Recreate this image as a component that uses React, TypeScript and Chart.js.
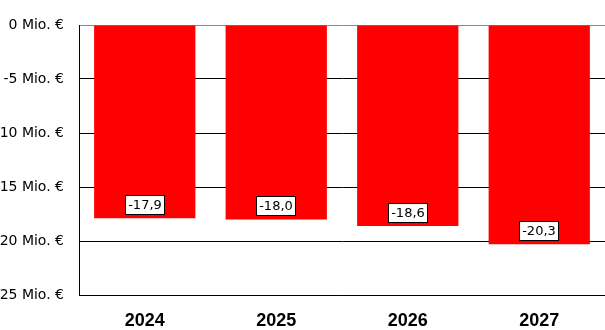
import React, { useEffect, useRef } from "react";
import { Chart, registerables } from "chart.js";

Chart.register(...registerables);

const categories = ["2024", "2025", "2026", "2027"];
const values = [-17.9, -18.0, -18.6, -20.3];
const yTicks = [0, -5, -10, -15, -20, -25];

const fmt = (v: number) => v.toFixed(1).replace(".", ",");

const labelPlugin = {
  id: "boxLabels",
  afterDatasetsDraw(chart: any) {
    const ctx = chart.ctx;
    const meta = chart.getDatasetMeta(0);
    ctx.save();
    ctx.font = "13px 'DejaVu Sans'";
    ctx.textAlign = "center";
    ctx.textBaseline = "middle";
    meta.data.forEach((bar: any, i: number) => {
      const text = fmt(values[i]);
      const w = Math.round(ctx.measureText(text).width + 6);
      const h = 20;
      const cx = Math.round(bar.x);
      const bottom = Math.round(bar.y) - 3;
      const x = Math.round(cx - w / 2);
      const y = bottom - h;
      ctx.fillStyle = "#ffffff";
      ctx.fillRect(x, y, w, h);
      ctx.strokeStyle = "#000000";
      ctx.lineWidth = 1;
      ctx.strokeRect(x + 0.5, y + 0.5, w - 1, h - 1);
      ctx.fillStyle = "#000000";
      ctx.fillText(text, cx, y + h / 2 + 0.5);
    });
    ctx.restore();
  },
};

export default function App() {
  const ref = useRef<HTMLCanvasElement>(null);
  useEffect(() => {
    if (!ref.current) return;
    const chart = new Chart(ref.current, {
      type: "bar",
      data: {
        labels: categories,
        datasets: [
          {
            data: values,
            backgroundColor: "#ff0000",
            borderWidth: 0,
            categoryPercentage: 1,
            barPercentage: 0.77,
          },
        ],
      },
      options: {
        animation: false,
        responsive: false,
        maintainAspectRatio: false,
        layout: { padding: { top: 25, right: 0, bottom: 0, left: 0 } },
        plugins: { legend: { display: false }, tooltip: { enabled: false } },
        scales: {
          x: {
            afterFit: (scale: any) => {
              scale.height = 35;
            },
            grid: { display: false, drawTicks: false },
            border: { display: true, color: "#000000", width: 1 },
            ticks: {
              padding: 15,
              color: "#000000",
              font: { family: "'Liberation Sans'", size: 18, weight: "bold" },
            },
          },
          y: {
            min: -25,
            max: 0,
            afterFit: (scale: any) => {
              scale.width = 79;
            },
            afterBuildTicks: (scale: any) => {
              scale.ticks = yTicks.map((v) => ({ value: v }));
            },
            grid: {
              drawTicks: false,
              color: (c: any) => (c.tick && c.tick.value === 0 ? "#888888" : "#000000"),
              lineWidth: 1,
            },
            border: { display: true, color: "#000000", width: 1 },
            ticks: {
              padding: 15,
              color: "#000000",
              font: { family: "'DejaVu Sans'", size: 14 },
              callback: (v: any) => `${v} Mio. €`,
            },
          },
        },
      },
      plugins: [labelPlugin],
    });
    return () => chart.destroy();
  }, []);
  return (
    <div style={{ position: "fixed", left: 0, top: 0, width: 605, height: 330, background: "#fff" }}>
      <canvas ref={ref} width={605} height={330} style={{ width: 605, height: 330, display: "block" }} />
    </div>
  );
}
